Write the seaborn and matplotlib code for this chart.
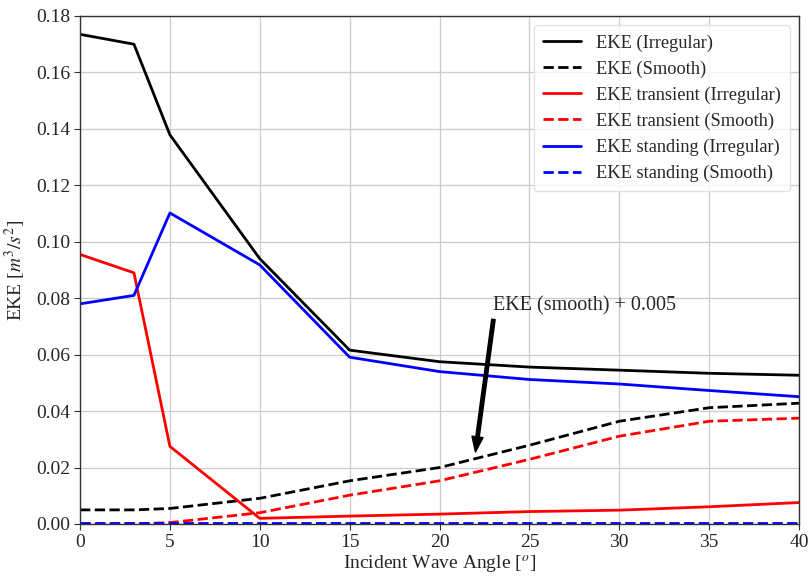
import numpy as np
import pandas as pd
import matplotlib
matplotlib.use("Agg")
import matplotlib.pyplot as plt
import seaborn as sns

angles = [0, 3, 5, 10, 15, 20, 25, 30, 35, 40]
eke_irregular = [0.1735, 0.1700, 0.1379, 0.0940, 0.0616, 0.0575, 0.0556, 0.0545, 0.0534, 0.0527]
eke_smooth = [0.0050, 0.0050, 0.0055, 0.0091, 0.0153, 0.0200, 0.0279, 0.0364, 0.0412, 0.0428]
eke_trans_irregular = [0.0955, 0.0890, 0.0275, 0.0020, 0.0028, 0.0035, 0.0044, 0.0049, 0.0061, 0.0076]
eke_trans_smooth = [0.0000, 0.0000, 0.0005, 0.0040, 0.0102, 0.0153, 0.0229, 0.0311, 0.0364, 0.0375]
eke_stand_irregular = [0.0780, 0.0810, 0.1102, 0.0918, 0.0591, 0.0540, 0.0512, 0.0496, 0.0473, 0.0451]
eke_stand_smooth = [0.0002, 0.0002, 0.0002, 0.0002, 0.0002, 0.0002, 0.0002, 0.0002, 0.0002, 0.0002]

labels = ["EKE (Irregular)", "EKE (Smooth)", "EKE transient (Irregular)",
          "EKE transient (Smooth)", "EKE standing (Irregular)", "EKE standing (Smooth)"]
series = [eke_irregular, eke_smooth, eke_trans_irregular, eke_trans_smooth,
          eke_stand_irregular, eke_stand_smooth]
colors = ["black", "black", "red", "red", "blue", "blue"]
styles = ["-", "--", "-", "--", "-", "--"]

sns.set_style("whitegrid")
plt.rcParams["font.family"] = ["Liberation Serif", "DejaVu Serif"]
plt.rcParams["mathtext.fontset"] = "stix"

fig = plt.figure(figsize=(8.1, 5.79), dpi=100)
ax = fig.add_axes([0.0988, 0.095, 0.8876, 0.8774])

for lab, vals, c, ls in zip(labels, series, colors, styles):
    df = pd.DataFrame({"angle": angles, "eke": vals})
    sns.lineplot(data=df, x="angle", y="eke", ax=ax, color=c, linestyle=ls,
                 linewidth=2.0, label=lab)

ax.set_xlim(0, 40)
ax.set_ylim(0, 0.18)
ax.set_xticks(np.arange(0, 41, 5))
ax.set_yticks(np.arange(0, 0.181, 0.02))
ax.yaxis.set_major_formatter(matplotlib.ticker.FormatStrFormatter("%.2f"))
ax.tick_params(axis="both", labelsize=14, length=4, width=0.8, color="#333333",
               direction="out", bottom=True, left=True, pad=3)
ax.grid(True, color="#cccccc", linewidth=0.9)
for s in ax.spines.values():
    s.set_color("#333333")
    s.set_linewidth(1.0)

ax.set_xlabel(r"Incident Wave Angle [$^o$]", fontsize=14, labelpad=2)
ax.set_ylabel(r"EKE [$m^3/s^2$]", fontsize=14, labelpad=6)

ax.annotate("", xy=(22.0, 0.0255), xytext=(23.0, 0.0725),
            arrowprops=dict(facecolor="black", edgecolor="black", width=2.5,
                            headwidth=8, headlength=11, shrink=0))
ax.text(23.0, 0.0772, "EKE (smooth) + 0.005", fontsize=14.5, ha="left", va="center")

leg = ax.legend(loc="upper right", fontsize=13.2, frameon=True, handlelength=2.1,
                borderpad=0.5, labelspacing=0.48, handletextpad=0.8)
leg.get_frame().set_edgecolor("#dddddd")

fig.savefig("out.png", dpi=100)
